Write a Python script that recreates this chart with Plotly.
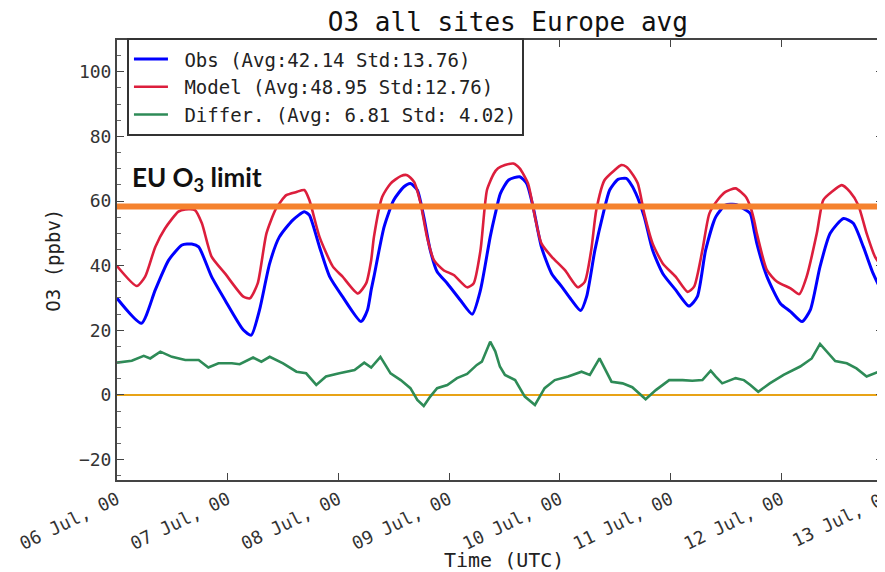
import pandas as pd
import plotly.graph_objects as go

# ---------------- data ----------------
START = "2015-07-06 00:00"

obs_hours = [0, 5.3, 8.3, 11.2, 14.1, 16.2, 17.7, 20.5, 23.4, 27.4, 29.1, 30.9, 33.1, 35.2, 38.1, 40.6,
             41.7, 43.9, 46.1, 48.9, 52.9, 54.3, 55.1, 55.7, 57.9, 60.0, 62.2, 63.6, 65.1, 66.5, 67.9,
             69.4, 71.6, 74.4, 77.0, 78.8, 80.9, 82.0, 83.1, 84.9, 87.3, 88.8, 90.2, 92.0, 94.2, 96.4,
             98.5, 100.5, 101.8, 103.6, 105.4, 106.8, 108.6, 110.4, 111.1, 112.5, 114.3, 116.1, 118.3,
             121.1, 124.0, 125.8, 127.6, 129.8, 131.9, 134.1, 136.3, 137.3, 138.1, 138.7, 140.9, 143.8,
             146.0, 148.5, 150.3, 152.4, 154.6, 157.5, 159.6, 161.8, 163.9, 166.0]
obs_values = [29.9, 22.2, 32.5, 41.7, 46.4, 46.7, 45.8, 36.6, 29.4, 20.1, 18.5, 26.3, 40.7, 48.9, 54.1,
              56.7, 55.6, 45.8, 36.6, 30.4, 22.7, 26.3, 32.5, 36.6, 52.0, 60.3, 64.4, 65.4, 63.4, 55.1,
              44.8, 38.1, 34.5, 29.4, 25.0, 32.5, 48.9, 56.0, 62.3, 66.5, 67.5, 65.4, 58.2, 45.8, 37.6,
              33.5, 29.4, 26.1, 30.4, 44.8, 56.1, 63.4, 66.7, 67.0, 65.9, 62.3, 55.1, 44.8, 37.6, 32.5,
              27.5, 30.4, 44.8, 55.1, 58.7, 58.9, 57.2, 56.1, 51.0, 46.9, 36.6, 28.3, 25.8, 22.7, 26.3,
              39.7, 50.0, 54.6, 53.1, 45.8, 37.6, 31.4]

model_hours = [0, 4.3, 6.1, 8.3, 10.4, 13.3, 14.8, 16.9, 18.4, 20.5, 23.4, 27.4, 28.8, 30.5, 32.4, 34.5,
               36.7, 38.9, 40.6, 41.7, 43.9, 46.8, 48.9, 52.2, 54.0, 55.1, 55.7, 57.5, 59.3, 61.5, 62.9,
               64.4, 65.8, 67.2, 68.7, 70.8, 73.0, 75.9, 77.3, 78.8, 80.2, 81.7, 82.6, 84.1, 85.9, 87.3,
               89.1, 90.6, 92.0, 94.2, 97.1, 99.9, 101.4, 102.8, 103.9, 105.7, 107.9, 109.3, 110.4, 111.4,
               112.9, 114.3, 116.1, 118.3, 121.1, 123.7, 125.1, 126.9, 128.4, 130.2, 131.9, 134.1, 136.3,
               137.3, 138.1, 138.7, 140.9, 143.1, 146.0, 147.9, 149.5, 151.7, 153.1, 154.9, 157.1, 158.9,
               160.7, 162.5, 164.3, 166.0]
model_values = [39.9, 33.7, 36.6, 45.8, 51.5, 56.7, 57.4, 57.2, 53.1, 42.8, 37.6, 30.4, 29.9, 34.5, 50.0,
                57.7, 61.8, 62.8, 63.4, 60.3, 48.9, 39.7, 36.6, 31.4, 34.5, 41.7, 48.9, 61.3, 65.4, 67.7,
                68.0, 65.9, 59.3, 48.9, 41.7, 38.6, 37.1, 33.3, 34.5, 44.8, 63.4, 68.5, 70.1, 71.1, 71.6,
                70.1, 65.4, 55.1, 46.9, 42.8, 38.6, 33.3, 35.0, 44.8, 57.2, 66.5, 69.6, 71.1, 70.6, 69.0,
                65.4, 56.1, 46.9, 40.7, 36.6, 31.9, 33.5, 44.8, 56.1, 60.3, 62.8, 63.9, 61.3, 58.2, 54.1,
                50.0, 38.6, 35.0, 33.0, 31.2, 36.6, 50.0, 60.3, 62.8, 64.9, 62.8, 58.7, 50.0, 42.8, 39.2]

diff_hours = [0, 3.2, 5.8, 7.2, 9.4, 11.9, 14.8, 17.7, 19.8, 22.0, 24.9, 26.6, 29.5, 31.3, 33.1, 36.0,
              38.9, 41.0, 43.2, 45.3, 48.2, 51.5, 53.6, 55.1, 57.1, 59.3, 61.5, 63.6, 65.1, 66.5, 67.9,
              69.4, 71.6, 73.7, 75.9, 78.0, 79.1, 80.9, 82.0, 83.0, 84.1, 86.3, 88.4, 90.6, 92.7, 94.9,
              97.8, 100.7, 102.5, 104.6, 107.2, 109.6, 111.7, 114.6, 116.8, 119.7, 122.6, 124.7, 126.9,
              128.7, 129.8, 131.2, 134.1, 135.9, 137.3, 139.0, 141.5, 144.5, 148.1, 150.6, 152.4, 155.7,
              158.2, 160.3, 162.5, 166.0]
diff_values = [10.0, 10.6, 12.1, 11.3, 13.4, 11.8, 10.8, 10.8, 8.5, 9.8, 9.8, 9.5, 11.6, 10.3, 11.8, 9.8,
               7.2, 6.7, 3.1, 5.7, 6.7, 7.7, 10.0, 8.5, 11.8, 6.7, 4.6, 2.1, -1.5, -3.4, -0.5, 2.1, 3.1,
               5.2, 6.5, 9.3, 10.3, 16.5, 13.5, 8.8, 6.2, 4.6, -0.5, -3.1, 2.1, 4.6, 5.7, 7.2, 6.2, 11.3,
               4.1, 3.6, 2.4, -1.3, 1.5, 4.6, 4.6, 4.4, 4.6, 7.5, 5.7, 3.6, 5.2, 4.6, 3.1, 1.0, 3.6, 6.2,
               8.8, 11.3, 15.8, 10.5, 9.8, 8.2, 5.7, 7.7]

series_names = ["Obs (Avg:42.14 Std:13.76)",
                "Model (Avg:48.95 Std:12.76)",
                "Differ. (Avg: 6.81 Std: 4.02)"]

EU_LIMIT = 58.3
EU_LABEL = "<b>EU O<sub>3</sub> limit</b>"
LAST_TICK_LABEL = "13 Jul, 00"
X_END_HOURS = 166.05
Y_RANGE = [-26.3, 109.8]
Y_TICKS = [-20, 0, 20, 40, 60, 80, 100]

# ---------------- figure ----------------
t0 = pd.Timestamp(START)
to_time = lambda hrs: t0 + pd.to_timedelta(hrs, unit="h")

MONO = "DejaVu Sans Mono"
TICK_SIZE = 18
GAP = "\u00a0"  # small gap between legend line sample and its label
fig = go.Figure()

fig.add_trace(go.Scatter(x=to_time(obs_hours), y=obs_values, mode="lines", name=GAP + series_names[0],
                         line=dict(color="#0000FF", width=3, shape="spline", smoothing=0.6)))
fig.add_trace(go.Scatter(x=to_time(model_hours), y=model_values, mode="lines", name=GAP + series_names[1],
                         line=dict(color="#DC1E3C", width=2.6, shape="spline", smoothing=0.6)))
fig.add_trace(go.Scatter(x=to_time(diff_hours), y=diff_values, mode="lines", name=GAP + series_names[2],
                         line=dict(color="#2E8B57", width=2.6)))

fig.add_hline(y=0, line=dict(color="#E8A317", width=2), layer="below")
fig.add_hline(y=EU_LIMIT, line=dict(color="#F5822E", width=6), layer="above")

fig.add_annotation(x=0.017, xref="paper", y=EU_LIMIT + 8.8, yref="y", xanchor="left", yanchor="middle",
                   text=EU_LABEL, showarrow=False,
                   font=dict(family="Lato", size=26, color="#111"))

# axis titles placed like the reference
fig.add_annotation(x=0.505, xref="paper", y=-0.182, yref="paper", xanchor="center", yanchor="middle",
                   text="Time (UTC)", showarrow=False,
                   font=dict(family=MONO, size=20, color="#222"))
fig.add_annotation(x=-0.084, xref="paper", y=0.5, yref="paper", xanchor="center", yanchor="middle",
                   text="O3 (ppbv)", textangle=-90, showarrow=False,
                   font=dict(family=MONO, size=19, color="#222"))
# last date tick (falls just at the right edge of the window, as in the reference)
fig.add_annotation(x=0.947, xref="paper", y=-0.086, yref="paper", xanchor="center", yanchor="middle",
                   text=LAST_TICK_LABEL, textangle=-26, showarrow=False,
                   font=dict(family=MONO, size=TICK_SIZE, color="#333"))

fig.update_layout(
    width=877, height=564,
    margin=dict(l=109, r=0, t=32, b=92),
    paper_bgcolor="white", plot_bgcolor="white",
    title=dict(text="O3 all sites Europe avg", x=0.570, xanchor="center", y=0.9745, yanchor="middle",
               font=dict(family=MONO, size=26, color="#111")),
    font=dict(family=MONO, color="#333"),
    legend=dict(x=0.013, y=1.004, xanchor="left", yanchor="top", bgcolor="white",
                bordercolor="#333", borderwidth=2, font=dict(family=MONO, size=19, color="#222"),
                tracegroupgap=0, itemwidth=34),
    showlegend=True,
)

fig.update_xaxes(
    range=[to_time(0), to_time(X_END_HOURS)],
    tickformat="%d %b, %H", dtick=86400000, tick0=to_time(0),
    tickangle=-26, ticks="inside", ticklen=7, tickcolor="#444",
    showline=True, linecolor="#444", linewidth=2, mirror="ticks",
    showgrid=False, zeroline=False,
    tickfont=dict(family=MONO, size=TICK_SIZE, color="#333"),
)
fig.update_yaxes(
    range=Y_RANGE, tickvals=Y_TICKS,
    ticks="inside", ticklen=7, tickcolor="#444",
    minor=dict(ticks="inside", dtick=5, ticklen=4, tickcolor="#666"),
    showline=True, linecolor="#444", linewidth=2, mirror="ticks",
    showgrid=False, zeroline=False,
    tickfont=dict(family=MONO, size=TICK_SIZE, color="#333"),
)

fig.write_html("out.html")
